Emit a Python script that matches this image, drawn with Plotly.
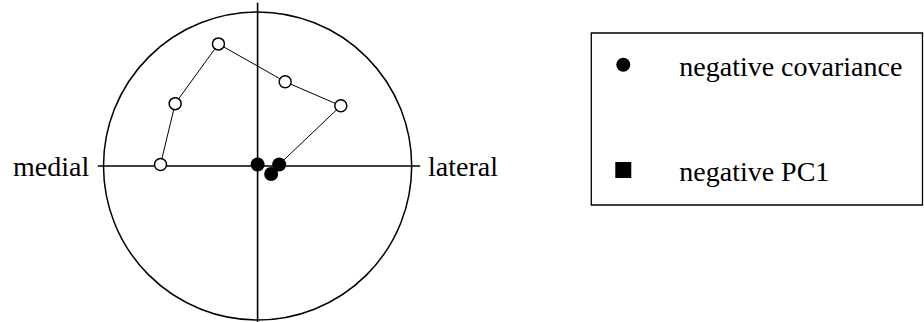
import plotly.graph_objects as go

# Unit-circle diagram: positions on the medial–lateral axis
open_x = [-0.630, -0.535, -0.254, 0.179, 0.540]
open_y = [0.010, 0.405, 0.793, 0.547, 0.391]

cov_x = [0.000, 0.140, 0.088]
cov_y = [0.010, 0.010, -0.052]

# path joins the open points and ends at the second covariance point
path_x = open_x + [cov_x[1]]
path_y = open_y + [cov_y[1]]

axis_labels = ["medial", "lateral"]
legend_labels = ["negative covariance", "negative PC1"]

FONT = "Liberation Serif"
W, H = 924, 322
CX, CY, S = 257.5, 166.0, 154.0          # centre pixel and pixels per unit
ML = 88
XR = [(ML - CX) / S, (ML + 2 * 1.1 * S - CX) / S]
PW = 2 * 1.1 * S
YR = [(CY - H) / S, CY / S]

fig = go.Figure()

# outer circle
fig.add_shape(type="circle", xref="x", yref="y", x0=-1, y0=-1, x1=1, y1=1,
              line=dict(color="black", width=1.5), layer="below")
# cross axes
fig.add_trace(go.Scatter(x=[-1.037, 1.055], y=[0, 0], mode="lines",
                         line=dict(color="black", width=1.6), showlegend=False,
                         hoverinfo="skip"))
fig.add_trace(go.Scatter(x=[0, 0], y=[-1.02, 1.06], mode="lines",
                         line=dict(color="black", width=1.6), showlegend=False,
                         hoverinfo="skip"))

# connecting path
fig.add_trace(go.Scatter(x=path_x, y=path_y, mode="lines",
                         line=dict(color="black", width=1), showlegend=False))
# open points
fig.add_trace(go.Scatter(x=open_x, y=open_y, mode="markers",
                         marker=dict(symbol="circle", size=12, color="white",
                                     line=dict(color="black", width=1.5)),
                         showlegend=False))
# negative covariance points
fig.add_trace(go.Scatter(x=cov_x, y=cov_y, mode="markers", name=legend_labels[0],
                         legendgroup="a",
                         marker=dict(symbol="circle", size=14, color="black",
                                     line=dict(width=0))))
# negative PC1 (legend entry only, no points)
fig.add_trace(go.Scatter(x=[None], y=[None], mode="markers", name=legend_labels[1],
                         legendgroup="b",
                         marker=dict(symbol="square", size=16, color="black",
                                     line=dict(width=0))))

fig.add_annotation(x=(91 - CX) / S, y=0, xref="x", yref="y", text=axis_labels[0],
                   showarrow=False, xanchor="right", yanchor="middle",
                   font=dict(family=FONT, size=28, color="black"))
fig.add_annotation(x=(426 - CX) / S, y=0, xref="x", yref="y", text=axis_labels[1],
                   showarrow=False, xanchor="left", yanchor="middle",
                   font=dict(family=FONT, size=28, color="black"))

# legend frame
fig.add_shape(type="rect", xref="paper", yref="paper",
              x0=(591 - ML) / PW, x1=(922 - ML) / PW,
              y0=1 - 205 / H, y1=1 - 33 / H,
              line=dict(color="black", width=1.3))

fig.update_layout(
    width=W, height=H,
    margin=dict(l=ML, r=W - ML - PW, t=0, b=0),
    paper_bgcolor="white", plot_bgcolor="white",
    xaxis=dict(range=XR, visible=False, fixedrange=True),
    yaxis=dict(range=YR, visible=False, fixedrange=True),
    showlegend=True,
    legend=dict(x=(567 - ML) / PW, y=1 - 40 / H, xanchor="left", yanchor="top",
                bgcolor="rgba(0,0,0,0)", borderwidth=0,
                itemwidth=102, tracegroupgap=66,
                font=dict(family=FONT, size=28, color="black")),
)

fig.write_html("out.html")
